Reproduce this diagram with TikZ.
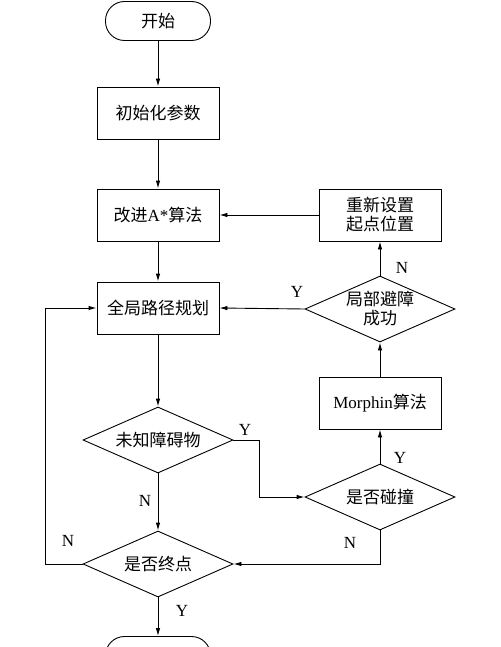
\documentclass[tikz,border=0pt]{standalone}
\usepackage{fontspec}
\setmainfont{Liberation Serif}
\newfontfamily\cjk{Noto Sans CJK SC}
\usetikzlibrary{shapes.geometric,arrows.meta}

\begin{document}
\begin{tikzpicture}[x=1pt,y=-1pt,line width=0.9pt,>={Latex[length=8pt,width=4.5pt]}]
        \tikzstyle{every node}=[font=\fontsize{17}{19}\selectfont, align=center]
        \tikzstyle{term}=[draw, rounded corners=19pt, minimum width=105pt, minimum height=39pt]
        \tikzstyle{proc}=[draw, minimum width=122pt, minimum height=52pt]
        \tikzstyle{decide}=[draw, diamond, aspect=2.27, inner sep=0pt, minimum width=150pt, minimum height=66pt]
        \useasboundingbox (0,0) rectangle (500,647);
        \clip (0,0) rectangle (500,647);
        % main column
        \node[term] (start) at (158,21) {\cjk 开始};
        \node[proc] (init) at (158,113) {\cjk 初始化参数};
        \node[proc] (astar) at (158,215) {{\cjk 改进}A*{\cjk 算法}};
        \node[proc] (global) at (158,308) {\cjk 全局路径规划};
        \node[decide] (unknown) at (158,440) {\cjk 未知障碍物};
        \node[decide] (goal) at (158,564) {\cjk 是否终点};
        \node[term] (stop) at (158,656) {};
        % right column
        \node[decide] (collide) at (380,497) {\cjk 是否碰撞};
        \node[proc] (morphin) at (380,403) {Morphin{\cjk 算法}};
        \node[decide] (avoid) at (380,309) {\cjk 局部避障\\\cjk 成功};
        \node[proc] (reset) at (380,215) {\cjk 重新设置\\\cjk 起点位置};
        \coordinate (ybend) at (259,440);
        \coordinate (nbend) at (45,564);
        % connectors
        \draw[->] (start) -- (init);
        \draw[->] (init) -- (astar);
        \draw[->] (astar) -- (global);
        \draw[->] (global) -- (unknown);
        \draw[->] (unknown) -- (goal);
        \draw[->] (goal) -- (stop);
        \draw[->] (unknown.east) -- (ybend) |- (collide.west);
        \draw[->] (collide) -- (morphin);
        \draw[->] (morphin) -- (avoid);
        \draw[->] (avoid) -- (reset);
        \draw[->] (reset) -- (astar);
        \draw[->] (avoid.west) -- (global.east);
        \draw[->] (collide.south) |- (goal.east);
        \draw[->] (goal.west) -- (nbend) |- (global.west);
        % labels
        \node (nUnknown) at (145,501) {N};
        \node (yGoal) at (182,611) {Y};
        \node (yUnknown) at (245,430) {Y};
        \node (yCollide) at (400,458) {Y};
        \node (nAvoid) at (402,268) {N};
        \node (yAvoid) at (297,292) {Y};
        \node (nCollide) at (350,543) {N};
        \node (nGoal) at (68,541) {N};
    \end{tikzpicture}
\end{document}
